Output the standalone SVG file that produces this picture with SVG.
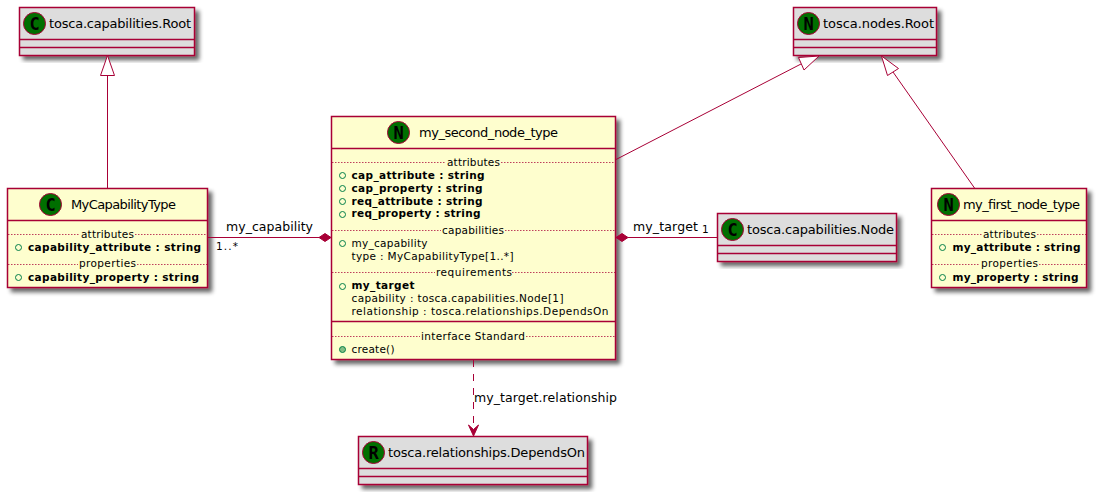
<svg xmlns="http://www.w3.org/2000/svg" width="1099" height="497" viewBox="0 0 1099 497">
<style>
text{font-family:"DejaVu Sans",sans-serif;fill:#000}
.t{font-size:13px}
.m{font-size:10.5px}
.b{font-size:10.5px;font-weight:bold}
.l{font-size:12.5px}
.sp{font-size:17px;font-weight:bold;text-anchor:middle;font-family:"DejaVu Sans Mono","DejaVu Sans",monospace}
.box{stroke:#A80036;stroke-width:1.5;filter:url(#sh)}
.y{fill:#FEFECE}
.g{fill:#DDDDDD}
.ln{stroke:#A80036;stroke-width:1.5;fill:none}
.dl{stroke:#A80036;stroke-width:1;stroke-dasharray:1.5 1.5;stroke-opacity:.75;fill:none}
.spot{fill:#006F00;stroke:#A80036;stroke-width:1}
.o{fill:none;stroke:#038048;stroke-width:1}
.c{stroke:#A80036;stroke-width:1;fill:none}
.tri{fill:#fff;stroke:#A80036;stroke-width:1}
.fill{fill:#A80036;stroke:#A80036;stroke-width:1}
</style>
<defs>
<filter id="sh" x="-10%" y="-10%" width="125%" height="125%">
<feGaussianBlur in="SourceAlpha" stdDeviation="2"/>
<feOffset dx="4" dy="4"/>
<feComponentTransfer><feFuncA type="linear" slope="0.6"/></feComponentTransfer>
<feMerge><feMergeNode/><feMergeNode in="SourceGraphic"/></feMerge>
</filter>
</defs>

<g id="tosca_capabilities_Root">
<rect class="box g" x="19.5" y="7.5" width="175" height="48"/>
<circle class="spot" cx="34.5" cy="23.5" r="11"/>
<text class="sp" x="34.5" y="29.5">C</text>
<text class="t" x="49" y="27.5" textLength="142">tosca.capabilities.Root</text>
<path class="ln" d="M19.5 39.5H194.5M19.5 47.5H194.5"/>
</g>

<g id="MyCapabilityType">
<rect class="box y" x="7.5" y="188.5" width="200" height="99"/>
<circle class="spot" cx="50.5" cy="204.5" r="11"/>
<text class="sp" x="50.5" y="210.5">C</text>
<text class="t" x="71" y="208.5" textLength="105">MyCapabilityType</text>
<path class="ln" d="M7.5 220.5H207.5"/>
<path class="dl" d="M8 234.5H80M135 234.5H207M8 264.5H78M137 264.5H207"/>
<text class="m" x="81" y="238" textLength="53">attributes</text>
<circle class="o" cx="18.5" cy="247.5" r="3"/>
<text class="b" x="28" y="251" textLength="173">capability_attribute : string</text>
<text class="m" x="79" y="267" textLength="57">properties</text>
<circle class="o" cx="18.5" cy="277.5" r="3"/>
<text class="b" x="28" y="281" textLength="171">capability_property : string</text>
</g>

<g id="my_second_node_type">
<rect class="box y" x="331.5" y="116.5" width="284" height="243"/>
<circle class="spot" cx="398.5" cy="132.5" r="11"/>
<text class="sp" x="398.5" y="138.5">N</text>
<text class="t" x="419" y="136.5" textLength="139">my_second_node_type</text>
<path class="ln" d="M331.5 148.5H615.5M331.5 321.5H615.5"/>
<path class="dl" d="M332 162.5H446M501 162.5H615M332 230.5H441M505 230.5H615M332 272.5H435M512 272.5H615M332 336.5H420M526 336.5H615"/>
<text class="m" x="447" y="166" textLength="53">attributes</text>
<circle class="o" cx="342.5" cy="175.5" r="3"/>
<text class="b" x="351.5" y="179" textLength="133">cap_attribute : string</text>
<circle class="o" cx="342.5" cy="188.5" r="3"/>
<text class="b" x="351.5" y="192" textLength="131">cap_property : string</text>
<circle class="o" cx="342.5" cy="201.5" r="3"/>
<text class="b" x="351.5" y="205" textLength="131">req_attribute : string</text>
<circle class="o" cx="342.5" cy="214.5" r="3"/>
<text class="b" x="351.5" y="217" textLength="129">req_property : string</text>
<text class="m" x="442" y="234" textLength="62">capabilities</text>
<circle class="o" cx="342.5" cy="243.5" r="3"/>
<text class="m" x="351.5" y="247" textLength="76">my_capability</text>
<text class="m" x="351.5" y="260" textLength="162">type : MyCapabilityType[1..*]</text>
<text class="m" x="436" y="276" textLength="76">requirements</text>
<circle class="o" cx="342.5" cy="286.5" r="3"/>
<text class="b" x="351.5" y="289" textLength="63">my_target</text>
<text class="m" x="351.5" y="302" textLength="212">capability : tosca.capabilities.Node[1]</text>
<text class="m" x="351.5" y="315" textLength="257">relationship : tosca.relationships.DependsOn</text>
<text class="m" x="421" y="340" textLength="104">interface Standard</text>
<circle cx="342.5" cy="349.5" r="3" fill="#84BE84" stroke="#038048"/>
<text class="m" x="351.5" y="353" textLength="43">create()</text>
</g>

<g id="tosca_nodes_Root">
<rect class="box g" x="793.5" y="7.5" width="143" height="48"/>
<circle class="spot" cx="808.5" cy="23.5" r="11"/>
<text class="sp" x="808.5" y="29.5">N</text>
<text class="t" x="823" y="27.5" textLength="111">tosca.nodes.Root</text>
<path class="ln" d="M793.5 39.5H936.5M793.5 47.5H936.5"/>
</g>

<g id="tosca_capabilities_Node">
<rect class="box g" x="717.5" y="213.5" width="179" height="48"/>
<circle class="spot" cx="732.5" cy="229.5" r="11"/>
<text class="sp" x="732.5" y="235.5">C</text>
<text class="t" x="747" y="233.5" textLength="147">tosca.capabilities.Node</text>
<path class="ln" d="M717.5 245.5H896.5M717.5 253.5H896.5"/>
</g>

<g id="my_first_node_type">
<rect class="box y" x="931.5" y="188.5" width="155" height="99"/>
<circle class="spot" cx="948.5" cy="204.5" r="11"/>
<text class="sp" x="948.5" y="210.5">N</text>
<text class="t" x="963" y="208.5" textLength="117">my_first_node_type</text>
<path class="ln" d="M931.5 220.5H1086.5"/>
<path class="dl" d="M932 234.5H982M1037 234.5H1086M932 264.5H980M1039 264.5H1086"/>
<text class="m" x="983" y="238" textLength="53">attributes</text>
<circle class="o" cx="942.5" cy="247.5" r="3"/>
<text class="b" x="952.5" y="251" textLength="128">my_attribute : string</text>
<text class="m" x="981" y="267" textLength="57">properties</text>
<circle class="o" cx="942.5" cy="277.5" r="3"/>
<text class="b" x="952.5" y="281" textLength="126">my_property : string</text>
</g>

<g id="tosca_relationships_DependsOn">
<rect class="box g" x="358.5" y="436.5" width="229" height="48"/>
<circle class="spot" cx="373.5" cy="452.5" r="11"/>
<text class="sp" x="373.5" y="458.5">R</text>
<text class="t" x="388" y="456.5" textLength="197">tosca.relationships.DependsOn</text>
<path class="ln" d="M358.5 468.5H587.5M358.5 476.5H587.5"/>
</g>

<g id="connectors">
<path class="c" d="M107.5 188V75"/>
<polygon class="tri" points="107.5,55.5 100.5,75.5 114.5,75.5"/>
<path class="c" d="M616 159.5L801 64"/>
<polygon class="tri" points="819,56 798.5,57.5 804,70"/>
<path class="c" d="M974.5 188L893 72"/>
<polygon class="tri" points="881.5,56 898.5,68.5 887.5,75.5"/>
<path class="c" d="M207.5 237.5H319"/>
<polygon class="fill" points="331,237.5 325,233.5 319,237.5 325,241.5"/>
<path class="c" d="M628 237.5H717.5"/>
<polygon class="fill" points="616,237.5 622,233.5 628,237.5 622,241.5"/>
<path class="c" d="M473.5 360V430" stroke-dasharray="7 7"/>
<polygon class="fill" points="473.5,436 468.5,425 473.5,429.5 478.5,425"/>
<text class="l" x="226" y="231" textLength="87">my_capability</text>
<text class="m" x="216" y="250" textLength="22">1..*</text>
<text class="l" x="633" y="231" textLength="65">my_target</text>
<text class="m" x="702" y="233">1</text>
<text class="l" x="474" y="402" textLength="143">my_target.relationship</text>
</g>
</svg>
